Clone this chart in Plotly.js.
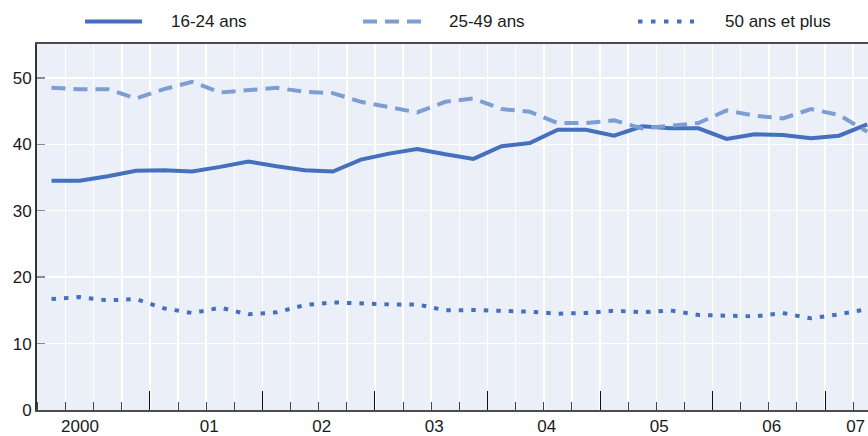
<!DOCTYPE html>
<html>
<head>
<meta charset="utf-8">
<script src="https://cdn.plot.ly/plotly-3.0.1.min.js"></script>
<style>
  html, body { margin: 0; padding: 0; background: #ffffff; }
  #chart { width: 868px; height: 436px; }
</style>
</head>
<body>
<div id="chart"></div>
<script>
// ---- Data ----
const periods = [
  '2000-Q1','2000-Q2','2000-Q3','2000-Q4',
  '2001-Q1','2001-Q2','2001-Q3','2001-Q4',
  '2002-Q1','2002-Q2','2002-Q3','2002-Q4',
  '2003-Q1','2003-Q2','2003-Q3','2003-Q4',
  '2004-Q1','2004-Q2','2004-Q3','2004-Q4',
  '2005-Q1','2005-Q2','2005-Q3','2005-Q4',
  '2006-Q1','2006-Q2','2006-Q3','2006-Q4',
  '2007-Q1','2007-Q2'
];
const seriesNames = ['16-24 ans', '25-49 ans', '50 ans et plus'];
const age16to24 = [34.5, 34.5, 35.2, 36.0, 36.1, 35.9, 36.6, 37.4, 36.7, 36.1, 35.9, 37.7,
                   38.6, 39.3, 38.5, 37.8, 39.7, 40.2, 42.2, 42.2, 41.3, 42.7, 42.4, 42.4,
                   40.8, 41.5, 41.4, 40.9, 41.3, 43.0];
const age25to49 = [48.5, 48.3, 48.3, 46.9, 48.3, 49.4, 47.8, 48.2, 48.5, 47.9, 47.7, 46.4,
                   45.6, 44.8, 46.4, 46.9, 45.3, 44.9, 43.2, 43.2, 43.6, 42.4, 42.8, 43.2,
                   45.1, 44.3, 43.9, 45.3, 44.4, 41.9];
const age50plus = [16.7, 17.0, 16.5, 16.7, 15.3, 14.6, 15.4, 14.4, 14.7, 15.8, 16.2, 16.0,
                   15.9, 15.9, 15.0, 15.05, 14.95, 14.8, 14.5, 14.6, 14.95, 14.7, 15.0, 14.3,
                   14.2, 14.1, 14.6, 13.8, 14.4, 15.2];
const tickYears = [2000, 2001, 2002, 2003, 2004, 2005, 2006, 2007];
const tickLabels = ['2000', '01', '02', '03', '04', '05', '06', '07'];
const yTicks = [0, 10, 20, 30, 40, 50];

// ---- Derived positions ----
const xs = periods.map(p => { const [y, q] = p.split('-Q'); return Number(y) + (Number(q) - 0.5) / 4; });
const labelPos = tickYears.map((y, i) => {
  if (i === 0) return y + 0.378;
  if (i === tickYears.length - 1) return y + 0.272;
  return y + 0.527;
});
const yearBounds = tickYears.slice(1);

const colDark = '#4570bd';
const colLight = '#7e9dd3';
const fontFam = '"Liberation Sans", Arial, sans-serif';
const XR = [1999.996, 2007.382];

// layout geometry (px) for legend placement
const W = 868, H = 436, ML = 37, MR = 0, MT = 44, MB = 26;
const PW = W - ML - MR, PH = H - MT - MB;
const px = v => (v - ML) / PW;
const py = v => (H - MB - v) / PH;

const traces = [
  { x: xs, y: age16to24, name: seriesNames[0], type: 'scatter', mode: 'lines',
    line: { color: colDark, width: 4 }, showlegend: false },
  { x: xs, y: age25to49, name: seriesNames[1], type: 'scatter', mode: 'lines',
    line: { color: colLight, width: 4, dash: '14px,8px' }, showlegend: false },
  { x: xs, y: age50plus, name: seriesNames[2], type: 'scatter', mode: 'lines', xaxis: 'x2',
    line: { color: colDark, width: 4, dash: '4.5px,8px' }, showlegend: false }
];

const legendItems = [
  { x0: 85, x1: 142, tx: 169, color: colDark, dash: 'solid' },
  { x0: 363, x1: 421, tx: 447, color: colLight, dash: '14px,8px' },
  { x0: 638, x1: 694, tx: 723, color: colDark, dash: '4.5px,8.5px' }
];
const legY = 21.5;
const shapes = legendItems.map(it => ({
  type: 'line', xref: 'paper', yref: 'paper',
  x0: px(it.x0), x1: px(it.x1), y0: py(legY), y1: py(legY),
  line: { color: it.color, width: 4, dash: it.dash }
}));
const annotations = legendItems.map((it, i) => ({
  xref: 'paper', yref: 'paper', x: px(it.tx), y: py(legY),
  xanchor: 'left', yanchor: 'middle', showarrow: false,
  text: seriesNames[i], font: { family: fontFam, size: 17, color: '#1a1a1a' }
}));

const layout = {
  width: W, height: H,
  margin: { l: ML, r: MR, t: MT, b: MB, pad: 0 },
  paper_bgcolor: '#ffffff',
  plot_bgcolor: '#ebf0f8',
  showlegend: false,
  font: { family: fontFam, size: 17, color: '#1a1a1a' },
  xaxis: {
    range: XR, autorange: false, type: 'linear',
    tickmode: 'array', tickvals: labelPos, ticktext: tickLabels,
    ticks: '', showgrid: false, zeroline: false,
    ticklabeloverflow: 'allow',
    showline: true, linecolor: '#4d4d4d', linewidth: 2, mirror: true,
    tickfont: { family: fontFam, size: 17, color: '#1a1a1a' },
    minor: { tickmode: 'linear', tick0: 2000, dtick: 0.25, ticks: 'inside', ticklen: 8,
             tickcolor: '#444444', tickwidth: 1, showgrid: true, gridcolor: '#ffffff', gridwidth: 1.5 }
  },
  xaxis2: {
    range: XR, autorange: false, type: 'linear', overlaying: 'x', anchor: 'y', side: 'bottom',
    tickmode: 'array', tickvals: yearBounds, ticks: 'inside', ticklen: 19, tickwidth: 1,
    tickcolor: '#111111', showticklabels: false, showgrid: false, zeroline: false, showline: false
  },
  yaxis: {
    range: [0, 55.1], autorange: false,
    tickmode: 'array', tickvals: yTicks, ticktext: yTicks.map(String),
    ticks: 'inside', ticklen: 8, tickcolor: '#8a8a8a', tickwidth: 1.5,
    showgrid: true, gridcolor: '#ffffff', gridwidth: 1.5, zeroline: false,
    showline: true, linecolor: '#333333', linewidth: 2,
    tickfont: { family: fontFam, size: 17, color: '#1a1a1a' }
  },
  shapes: shapes,
  annotations: annotations
};

Plotly.newPlot('chart', traces, layout, { displayModeBar: false, staticPlot: true });
</script>
</body>
</html>
